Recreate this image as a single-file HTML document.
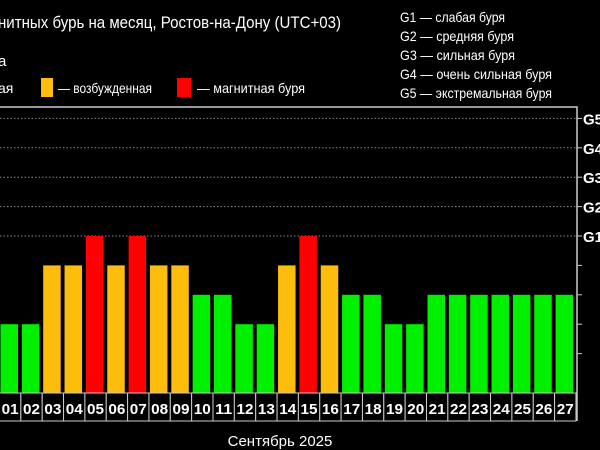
<!DOCTYPE html>
<html><head><meta charset="utf-8"><style>
body{margin:0;background:#000;width:600px;height:450px;overflow:hidden;font-family:"Liberation Sans","DejaVu Sans",sans-serif}
svg{display:block}
</style></head><body>
<svg width="600" height="450" viewBox="0 0 600 450">
<g id="hdr" font-family="Liberation Sans, DejaVu Sans, sans-serif" fill="#fff">
<text x="-2" y="28" font-size="17" textLength="343" lengthAdjust="spacingAndGlyphs">нитных бурь на месяц, Ростов-на-Дону (UTC+03)</text>
<text x="-2" y="66" font-size="15">а</text>
<text x="-2" y="93" font-size="14">ая</text>
<rect x="41" y="78" width="12" height="19" fill="#fdbd0c"/>
<text x="58" y="93" font-size="14" textLength="94" lengthAdjust="spacingAndGlyphs">— возбужденная</text>
<rect x="177" y="78" width="14" height="19" fill="#f00"/>
<text x="197" y="93" font-size="14" textLength="108" lengthAdjust="spacingAndGlyphs">— магнитная буря</text>
<g font-size="14">
<text x="400" y="22" textLength="105" lengthAdjust="spacingAndGlyphs">G1 — слабая буря</text>
<text x="400" y="41" textLength="114" lengthAdjust="spacingAndGlyphs">G2 — средняя буря</text>
<text x="400" y="60" textLength="115" lengthAdjust="spacingAndGlyphs">G3 — сильная буря</text>
<text x="400" y="79" textLength="152" lengthAdjust="spacingAndGlyphs">G4 — очень сильная буря</text>
<text x="400" y="98" textLength="152" lengthAdjust="spacingAndGlyphs">G5 — экстремальная буря</text>
</g>
</g>
<g id="plot"></g>
<text x="280" y="446" font-size="15" fill="#fff" text-anchor="middle">Сентябрь 2025</text>
</svg>
<script>
const days=["01","02","03","04","05","06","07","08","09","10","11","12","13","14","15","16","17","18","19","20","21","22","23","24","25","26","27"];
const levels=[2,2,4,4,5,4,5,4,4,3,3,2,2,4,5,4,3,3,2,2,3,3,3,3,3,3,3];
const gLabels=["G1","G2","G3","G4","G5"];
const gLevels=[5,6,7,8,9];
const NS="http://www.w3.org/2000/svg";
const plot=document.getElementById('plot');
const y=v=>383-29.4*v;
const cellW=21.35, x0=-0.5;
const x=i=>x0+cellW*i;
function mk(t,a){const e=document.createElementNS(NS,t);for(const k in a)e.setAttribute(k,a[k]);plot.appendChild(e);return e;}
const fr=mk('path',{d:'M-1 107 H577 V421',stroke:'#ccc','stroke-width':1.5,fill:'none'});


gLevels.forEach((g,k)=>{
 const ln=mk('line',{x1:0,x2:577,y1:y(g),y2:y(g),stroke:'#888','stroke-dasharray':'1.5 2','stroke-width':1});
 
 
 const tk=mk('line',{x1:577,x2:582,y1:y(g),y2:y(g),stroke:'#ccc'});
 
 
 const t=mk('text',{x:583,y:y(g)+6,fill:'#fff','font-size':15,'font-weight':'bold'});
 t.textContent=gLabels[k];
 
 
});
[1,2,3,4].forEach(v=>{
 const tk=mk('line',{x1:577,x2:582,y1:y(v),y2:y(v),stroke:'#ccc'});
 
 
});
days.forEach((d,i)=>{
 const v=levels[i];
 const c=v>=5?'#ff0000':v>=4?'#fdbd0c':'#00f000';
 const b=mk('rect',{x:x(i)+1,y:y(v),width:17.5,height:393-y(v),fill:c});
 
 
 const cell=mk('rect',{x:x(i),y:393,width:cellW,height:28,fill:'#000',stroke:'#ccc','stroke-width':1});
 
 
 const t=mk('text',{x:x(i)+cellW/2,y:414,fill:'#fff','font-size':15,'font-weight':'bold','text-anchor':'middle',textLength:17,lengthAdjust:'spacingAndGlyphs'});
 t.textContent=d;
 
 
});
</script>
</body></html>
